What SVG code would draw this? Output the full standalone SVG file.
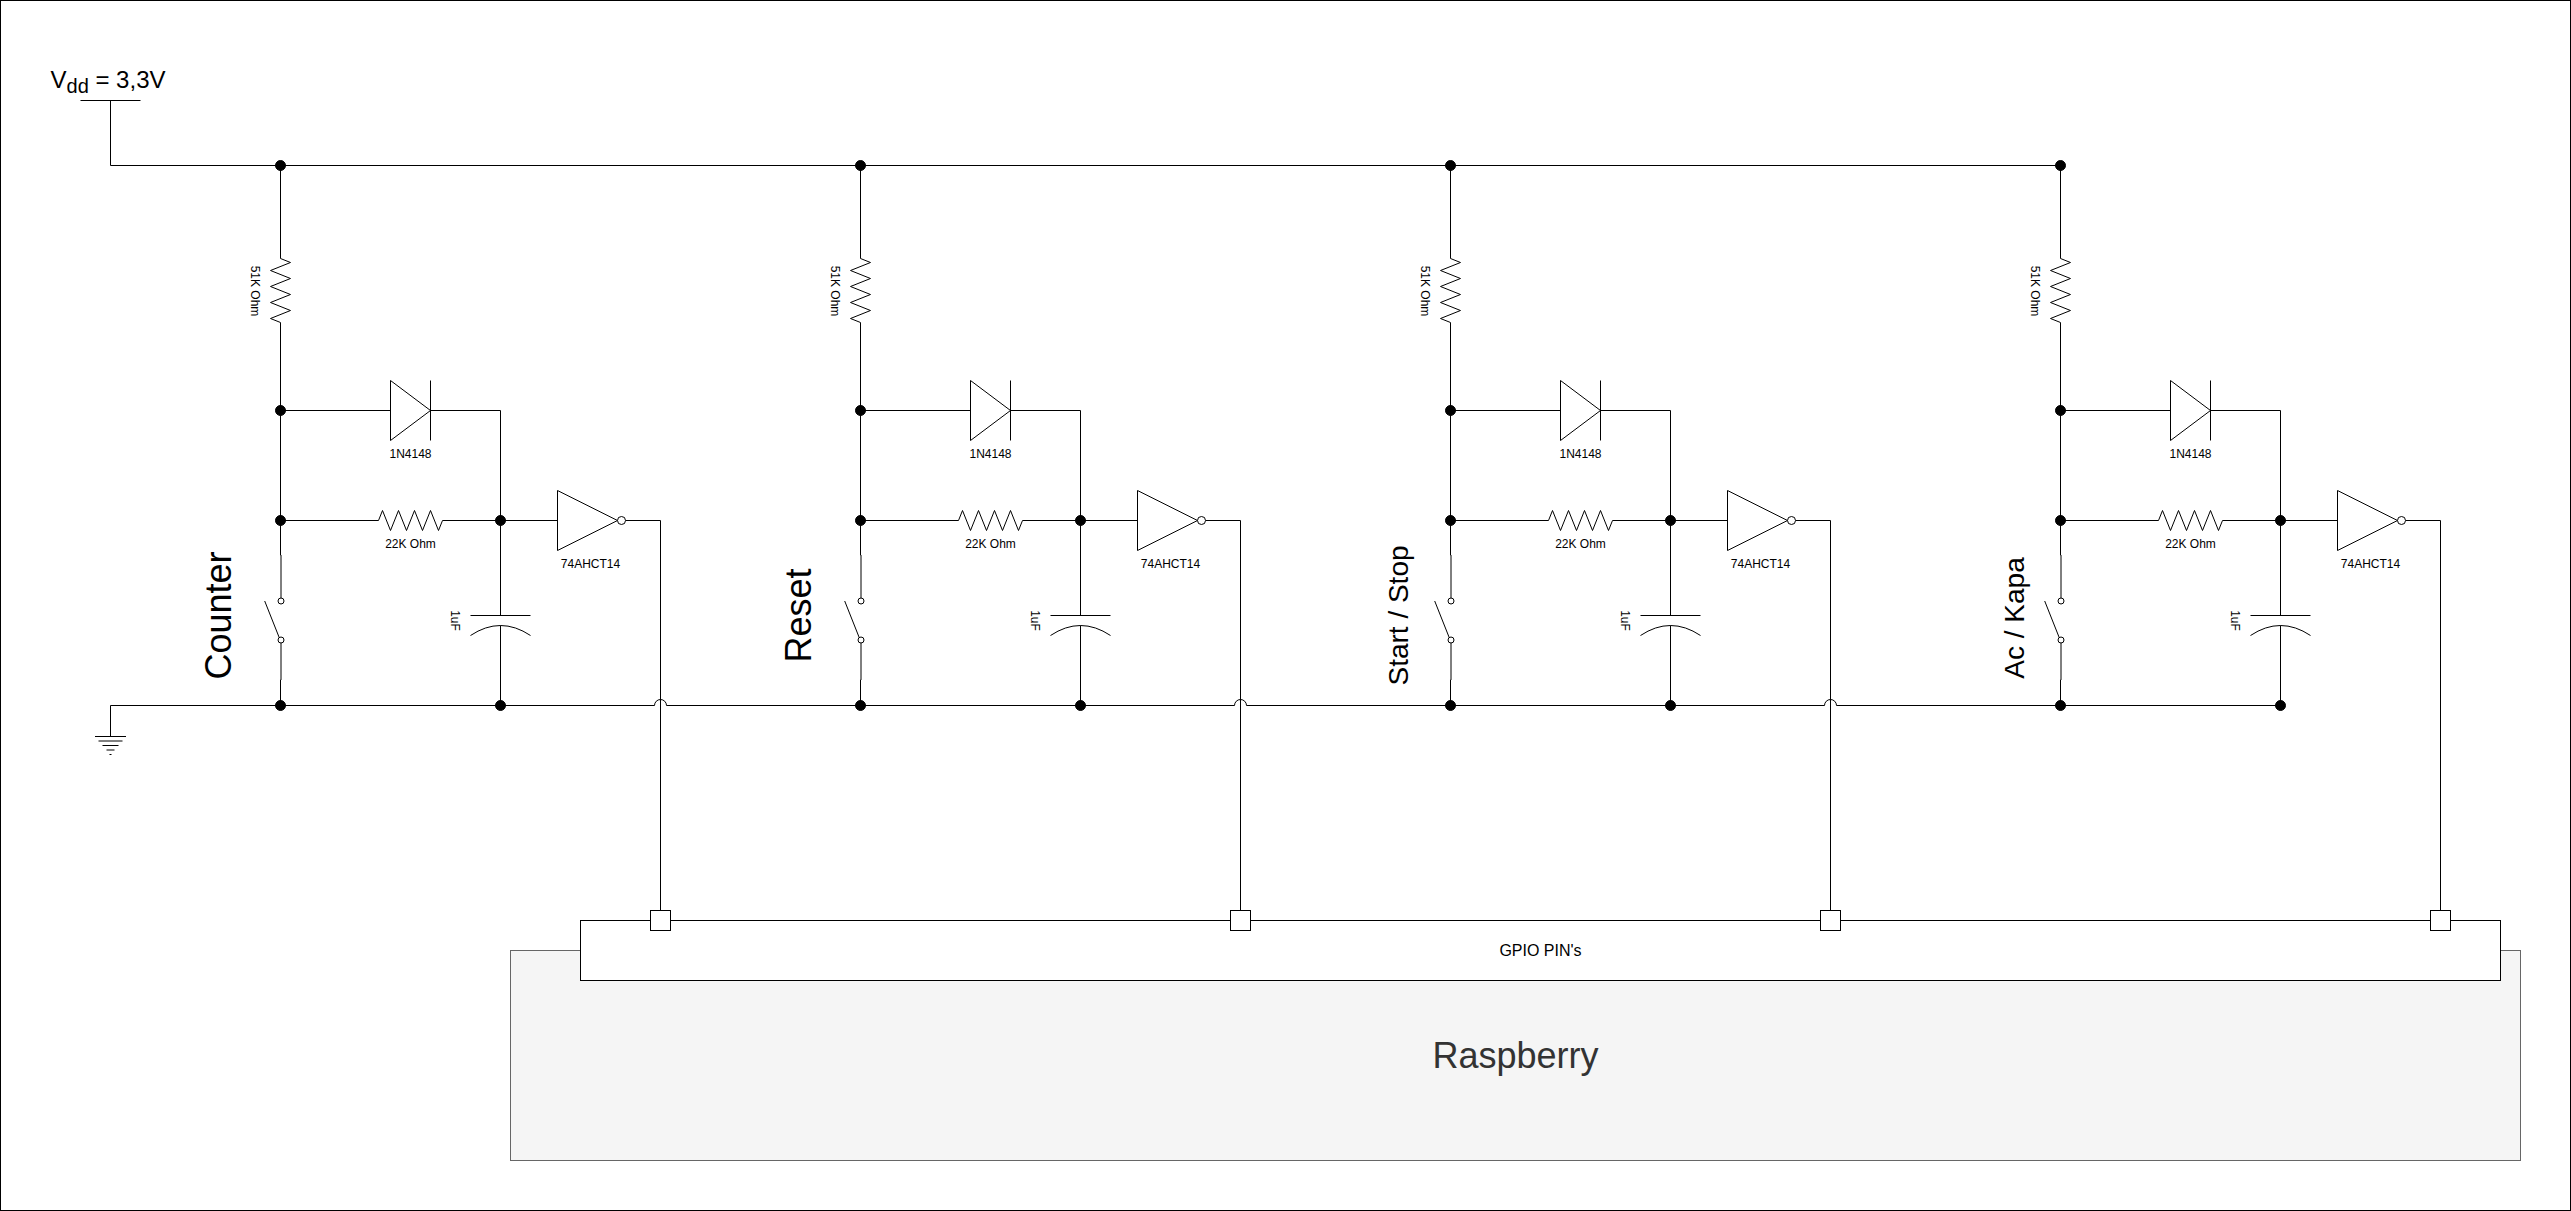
<svg xmlns="http://www.w3.org/2000/svg" xmlns:xlink="http://www.w3.org/1999/xlink" width="2571" height="1211" viewBox="0 0 2571 1211">
<style>
text{font-family:"Liberation Sans",Arial,Helvetica,sans-serif;fill:#000}
.s{fill:none;stroke:#000;stroke-width:1}
.w{fill:#fff;stroke:#000;stroke-width:1}
.d{fill:#000;stroke:#000;stroke-width:1}
.t12{font-size:12px;text-anchor:middle}
.t16{font-size:16px;text-anchor:middle}
.big{font-size:36px;text-anchor:middle}
.wire{fill:none;stroke:#000;stroke-width:1}
</style>
<defs>
<g id="sym-res-v"><path class="s" d="M280.5 258.5L290.5 262.5L270.5 270.5L290.5 278.5L270.5 286.5L290.5 294.5L270.5 302.5L290.5 310.5L270.5 318.5L280.5 322.5"/><text class="t12" transform="translate(251 291) rotate(90)">51K Ohm</text></g>
<g id="sym-diode"><path class="w" d="M390.5 380.5V440.5L430.5 410.5Z"/><path class="s" d="M430.5 380.5V440.5"/><text class="t12" x="410.5" y="457.5">1N4148</text></g>
<g id="sym-res-h"><path class="s" d="M378.5 520.5L382.5 510.5L390.5 530.5L398.5 510.5L406.5 530.5L414.5 510.5L422.5 530.5L430.5 510.5L438.5 530.5L442.5 520.5"/><text class="t12" x="410.5" y="547.5">22K Ohm</text></g>
<g id="sym-inv"><path class="w" d="M557.5 490.5V550.5L617.5 520.5Z"/><circle class="w" cx="621.5" cy="520.5" r="4"/><text class="t12" x="590.5" y="567.5">74AHCT14</text></g>
<g id="sym-cap"><path class="s" d="M470.5 615.5H530.5M470.5 635.5Q500.5 615.5 530.5 635.5"/><text class="t12" transform="translate(451 620.5) rotate(90)">1uF</text></g>
<g id="sym-sw"><path class="s" d="M264.7 601L279.2 637.5"/><circle class="w" cx="281" cy="601" r="3"/><circle class="w" cx="281" cy="640" r="3"/></g>
<g id="sym-pin"><rect class="w" x="650.5" y="910.5" width="20" height="20"/></g>
</defs>
<rect id="background" x="0" y="0" width="2571" height="1211" fill="#fff"/>
<rect id="frame" x="0.5" y="0.5" width="2570" height="1210" fill="none" stroke="#000"/>
<g id="raspberry">
<rect x="510.5" y="950.5" width="2010" height="210" fill="#f5f5f5" stroke="#666666"/>
<text class="big" x="1515.5" y="1068" style="fill:#333333">Raspberry</text>
</g>
<g id="gpio">
<rect class="w" x="580.5" y="920.5" width="1920" height="60"/>
<text class="t16" x="1540.5" y="956">GPIO PIN's</text>
</g>
<g id="connectors">
<path class="wire" d="M80.5 100.5H140.5M110.5 100.5V165.5H2060.5"/>
<path class="wire" d="M110.5 736V705.5H654.5A6 6 0 0 1 666.5 705.5H1234.5A6 6 0 0 1 1246.5 705.5H1824.5A6 6 0 0 1 1836.5 705.5H2280.5"/>
<g id="wires-col1"><path class="wire" d="M280.5 165.5V258.5M280.5 322.5V520.5M280.5 410.5H390.5M430.5 410.5H500.5V520.5M280.5 520.5H378.5M442.5 520.5H557.5M280.5 520.5V555H281V598M281 643V680H280.5V705.5M500.5 520.5V615.5M500.5 625.5V705.5M625.5 520.5H660.5V910.5"/></g>
<use id="wires-col2" xlink:href="#wires-col1" href="#wires-col1" x="580"/>
<use id="wires-col3" xlink:href="#wires-col1" href="#wires-col1" x="1170"/>
<use id="wires-col4" xlink:href="#wires-col1" href="#wires-col1" x="1780"/>
</g>
<g id="vdd"><text x="50.5" y="87.5" font-size="24">V<tspan font-size="20" dy="5">dd</tspan><tspan dy="-5"> = 3,3V</tspan></text></g>
<g id="ground"><path class="s" d="M95 736.5H126M98.5 741H122.5M102.500 745.500H118.500M106.500 750H114.500M109.500 754.500H111.500"/></g>

<g id="col1">
<g id="r1-51k"><use href="#sym-res-v"/></g>
<g id="d1"><use href="#sym-diode"/></g>
<g id="r1-22k"><use href="#sym-res-h"/></g>
<g id="u1"><use href="#sym-inv"/></g>
<g id="c1"><use href="#sym-cap"/></g>
<g id="sw1"><use href="#sym-sw"/><text transform="translate(231 615.500) rotate(-90)" font-size="36" text-anchor="middle">Counter</text></g>
<g id="pin1"><use href="#sym-pin"/></g>
</g>
<g id="col2" transform="translate(580 0)">
<g id="r2-51k"><use href="#sym-res-v"/></g>
<g id="d2"><use href="#sym-diode"/></g>
<g id="r2-22k"><use href="#sym-res-h"/></g>
<g id="u2"><use href="#sym-inv"/></g>
<g id="c2"><use href="#sym-cap"/></g>
<g id="sw2"><use href="#sym-sw"/><text transform="translate(231 615.500) rotate(-90)" font-size="36" text-anchor="middle">Reset</text></g>
<g id="pin2"><use href="#sym-pin"/></g>
</g>
<g id="col3" transform="translate(1170 0)">
<g id="r3-51k"><use href="#sym-res-v"/></g>
<g id="d3"><use href="#sym-diode"/></g>
<g id="r3-22k"><use href="#sym-res-h"/></g>
<g id="u3"><use href="#sym-inv"/></g>
<g id="c3"><use href="#sym-cap"/></g>
<g id="sw3"><use href="#sym-sw"/><text transform="translate(238 615.500) rotate(-90)" font-size="28" text-anchor="middle">Start / Stop</text></g>
<g id="pin3"><use href="#sym-pin"/></g>
</g>
<g id="col4" transform="translate(1780 0)">
<g id="r4-51k"><use href="#sym-res-v"/></g>
<g id="d4"><use href="#sym-diode"/></g>
<g id="r4-22k"><use href="#sym-res-h"/></g>
<g id="u4"><use href="#sym-inv"/></g>
<g id="c4"><use href="#sym-cap"/></g>
<g id="sw4"><use href="#sym-sw"/><text transform="translate(244 618) rotate(-90)" font-size="28" text-anchor="middle">Ac / Kapa</text></g>
<g id="pin4"><use href="#sym-pin"/></g>
</g>
<g id="junctions">
<circle class="d" cx="280.5" cy="165.5" r="5"/><circle class="d" cx="280.5" cy="410.5" r="5"/><circle class="d" cx="280.5" cy="520.5" r="5"/><circle class="d" cx="280.5" cy="705.5" r="5"/><circle class="d" cx="500.5" cy="520.5" r="5"/><circle class="d" cx="500.5" cy="705.5" r="5"/>
<circle class="d" cx="860.5" cy="165.5" r="5"/><circle class="d" cx="860.5" cy="410.5" r="5"/><circle class="d" cx="860.5" cy="520.5" r="5"/><circle class="d" cx="860.5" cy="705.5" r="5"/><circle class="d" cx="1080.5" cy="520.5" r="5"/><circle class="d" cx="1080.5" cy="705.5" r="5"/>
<circle class="d" cx="1450.5" cy="165.5" r="5"/><circle class="d" cx="1450.5" cy="410.5" r="5"/><circle class="d" cx="1450.5" cy="520.5" r="5"/><circle class="d" cx="1450.5" cy="705.5" r="5"/><circle class="d" cx="1670.5" cy="520.5" r="5"/><circle class="d" cx="1670.5" cy="705.5" r="5"/>
<circle class="d" cx="2060.5" cy="165.5" r="5"/><circle class="d" cx="2060.5" cy="410.5" r="5"/><circle class="d" cx="2060.5" cy="520.5" r="5"/><circle class="d" cx="2060.5" cy="705.5" r="5"/><circle class="d" cx="2280.5" cy="520.5" r="5"/><circle class="d" cx="2280.5" cy="705.5" r="5"/>
</g>
</svg>
